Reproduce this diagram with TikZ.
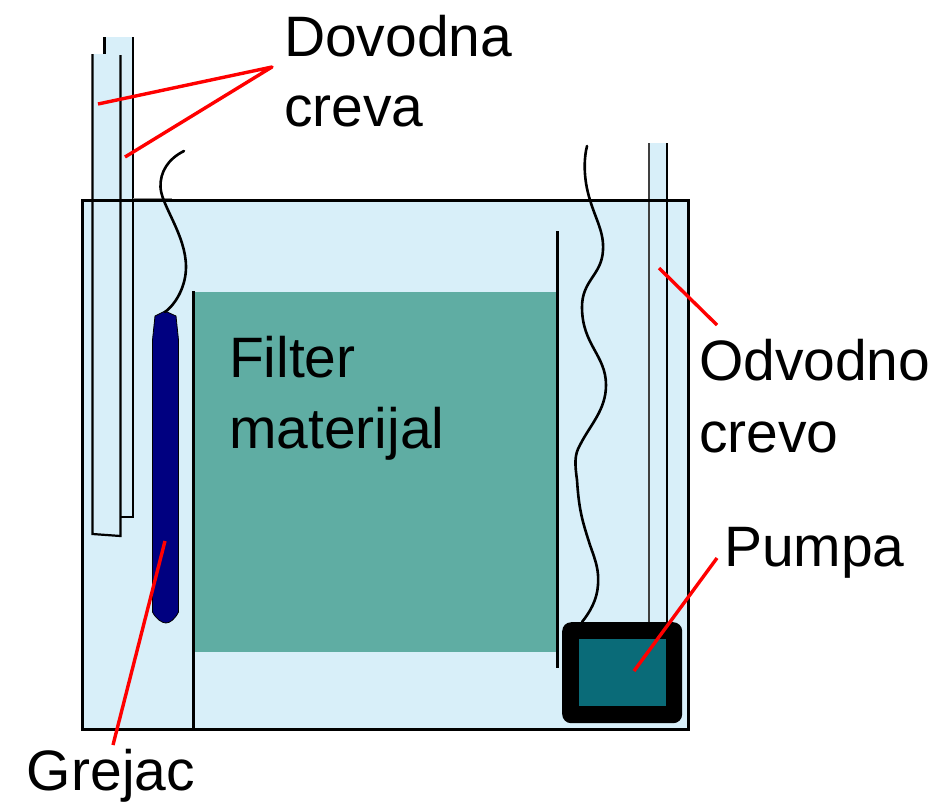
\documentclass[tikz,border=0pt]{standalone}
\usepackage{fontspec}
\setmainfont{Liberation Sans}
\definecolor{water}{HTML}{D8EFF9}
\definecolor{filtermat}{HTML}{5FADA3}
\definecolor{pumpin}{HTML}{0A6B78}
\definecolor{heater}{HTML}{000080}
\tikzset{
  lbl/.style={anchor=base west,inner sep=0pt,outer sep=0pt,font=\fontsize{57pt}{68pt}\selectfont,text=black},
  leader/.style={draw=red,line width=3.4pt,line join=round},
  wire/.style={draw=black,line width=2.6pt,line cap=round},
  tube/.style={draw=black,line width=2.2pt},
}
\begin{document}
\begin{tikzpicture}[x=1pt,y=-1pt]
\useasboundingbox (0,0) rectangle (937,807);
% tank
\fill[water] (82,200) rectangle (688,729);
% tube fills above tank
\fill[water] (104,37) rectangle (133,200);
\fill[water] (92,54) rectangle (120,200);
\fill[water] (649,143) rectangle (667,200);
% filter
\fill[filtermat] (195,292) rectangle (556,652);
% tubes
\draw[tube] (104.5,54) -- (104.5,37) (133,37) -- (133,517) -- (121,517);
\draw[tube] (92.5,54) -- (92.5,534) -- (120.5,536) -- (120.5,55);
\draw[tube,draw=black!75] (649,143) -- (649,623);
\draw[tube,line width=1.8pt] (667,143) -- (667,623);
% tank outline
\draw[draw=black!45,line width=1pt] (133,198) -- (172,198);
\draw[draw=black,line width=3pt] (82,200) rectangle (688,729);
% partitions
\draw[black,line width=3pt] (193,291) -- (193,729);
\draw[black,line width=3pt] (557.5,231) -- (557.5,668);
% heater
\fill[heater,draw=black,line width=0.8pt] (155,316) -- (165,311) -- (176,316) -- (178.5,340) -- (178.5,612) .. controls (175,619) and (170,623) .. (166,623) .. controls (162,623) and (156,619) .. (152.5,612) -- (152.5,340) -- cycle;
% wires
\draw[wire] (184,151) .. controls (168,159) and (160,172) .. (160.5,187) .. controls (161,205) and (186,235) .. (186,267) .. controls (186,285) and (177,303) .. (165,312);
\draw[wire] (587,146) .. controls (584,158) and (583,178) .. (590,200) .. controls (596,220) and (604,232) .. (603,250) .. controls (602,275) and (582,280) .. (582,307) .. controls (582,345) and (606,355) .. (606,385) .. controls (606,410) and (590,425) .. (580,445) .. controls (574,455) and (575,465) .. (577,480) .. controls (579,510) and (582,520) .. (590,545) .. controls (596,562) and (599,570) .. (598,585) .. controls (597,600) and (590,612) .. (582,622);
% pump
\node[fill=black,draw=none,rounded corners=9pt,minimum width=120pt,minimum height=101pt,inner sep=0pt,anchor=north west] (pump) at (562,622) {};
\node[fill=pumpin,draw=none,minimum width=87pt,minimum height=67pt,inner sep=0pt,anchor=north west] (pumpcore) at (579,639) {};
% labels
\node[lbl] (dovodna) at (284,56) {Dovodna};
\node[lbl] (creva) at (284,126) {creva};
\node[lbl] (filter) at (229,377) {Filter};
\node[lbl] (materijal) at (229,448) {materijal};
\node[lbl] (odvodno) at (699,380) {Odvodno};
\node[lbl] (crevo) at (699,452) {crevo};
\node[lbl] (pumpa) at (724,566) {Pumpa};
\node[lbl] (grejac) at (27,790) {Grejac};
% leader ends
\coordinate (fork) at (272,67);
\coordinate (tubeA) at (98,104);
\coordinate (tubeB) at (125,157);
\coordinate (outS) at (717,325);
\coordinate (outE) at (659,268);
\coordinate (pumpS) at (717,558);
\coordinate (pumpE) at (634,671);
\coordinate (heatS) at (113,745);
\coordinate (heatE) at (165,541);
\draw[leader] (tubeA) -- (fork) -- (tubeB);
\draw[leader] (outS) -- (outE);
\draw[leader] (pumpS) -- (pumpE);
\draw[leader] (heatS) -- (heatE);
\end{tikzpicture}
\end{document}
